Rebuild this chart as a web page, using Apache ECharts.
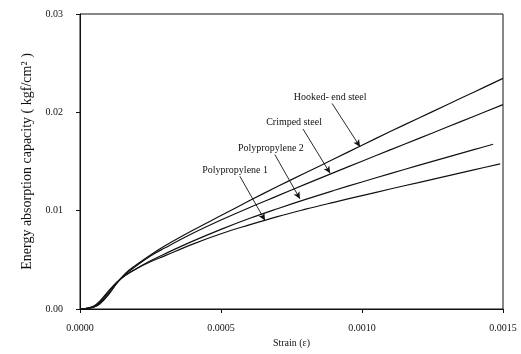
<!DOCTYPE html>
<html>
<head>
<meta charset="utf-8">
<script src="https://cdn.jsdelivr.net/npm/echarts@6/dist/echarts.min.js"></script>
<style>
  html, body { margin: 0; padding: 0; background: #fff; }
  #chart { width: 521px; height: 354px; }
</style>
</head>
<body>
<div id="chart"></div>
<script>
// Energy absorption vs strain
const strain = [0, 0.00002, 0.00005, 0.00007, 0.0001, 0.00013, 0.00016, 0.0002, 0.00025, 0.0003,
  0.0004, 0.0005, 0.0006, 0.0007, 0.0008, 0.0009, 0.001, 0.0011, 0.0012, 0.0013, 0.0014];

const hooked = [0, 0.00003, 0.0002, 0.0005, 0.0014, 0.0026, 0.0036, 0.0045, 0.0055, 0.0064,
  0.0080, 0.0095, 0.0110, 0.01245, 0.01385, 0.01525, 0.01665, 0.01805, 0.0194, 0.02075, 0.0221];
const crimped = [0, 0.00005, 0.0002, 0.0006, 0.0015, 0.0026, 0.0035, 0.0044, 0.0054, 0.0062,
  0.0077, 0.00905, 0.0103, 0.0115, 0.0127, 0.01387, 0.01503, 0.01618, 0.01733, 0.01848, 0.01963];
const poly2 = [0, 0.00005, 0.0003, 0.0007, 0.0017, 0.0027, 0.0034, 0.0041, 0.0049, 0.0056,
  0.0069, 0.0081, 0.0092, 0.0102, 0.01115, 0.01205, 0.01292, 0.01377, 0.0146, 0.01542, 0.01623];
const poly1 = [0, 0.00005, 0.0003, 0.0008, 0.0018, 0.0027, 0.0034, 0.0041, 0.0048, 0.0054,
  0.0066, 0.00765, 0.00855, 0.0094, 0.01015, 0.01085, 0.01153, 0.0122, 0.01286, 0.01352, 0.01417];

// last point of each curve (they stop at different strains)
const endStrain = [0.0015, 0.0015, 0.001465, 0.00149];
const endValue = [0.02345, 0.02078, 0.01675, 0.01476];

const seriesNames = ['Hooked- end steel', 'Crimped steel', 'Polypropylene 2', 'Polypropylene 1'];

// annotation text position and arrow (from -> to), in data units
const labelAt = [[0.000887, 0.0215], [0.000759, 0.0190], [0.000677, 0.0163], [0.000550, 0.0141]];
const arrowFrom = [[0.000894, 0.0209], [0.000791, 0.0183], [0.000691, 0.0157], [0.000567, 0.0135]];
const arrowTo = [[0.000993, 0.0165], [0.000887, 0.0138], [0.000780, 0.0112], [0.000656, 0.0090]];

const xTicks = [0, 0.0005, 0.001, 0.0015];
const yTicks = [0, 0.01, 0.02, 0.03];

const font = 'Liberation Serif';
const ink = '#111';

const chart = echarts.init(document.getElementById('chart'), null, { renderer: 'canvas' });

const buildSeries = (values, i) => ({
  name: seriesNames[i],
  type: 'line',
  data: strain.map((s, k) => [s, values[k]]).concat([[endStrain[i], endValue[i]]]),
  smooth: 0.4,
  showSymbol: false,
  symbol: 'none',
  lineStyle: { color: ink, width: 1.2 },
  z: 3,
  markPoint: {
    symbol: 'circle',
    symbolSize: 0,
    label: {
      show: true,
      position: 'inside',
      formatter: seriesNames[i],
      fontFamily: font,
      fontSize: 10,
      color: ink
    },
    data: [{ coord: labelAt[i] }]
  },
  markLine: {
    silent: true,
    symbol: ['none', 'arrow'],
    symbolSize: [5, 7],
    lineStyle: { color: ink, width: 0.9, type: 'solid' },
    label: { show: false },
    data: [[{ coord: arrowFrom[i] }, { coord: arrowTo[i] }]]
  }
});

const option = {
  animation: false,
  backgroundColor: '#fff',
  grid: {
    left: 80, right: 18, top: 14, bottom: 45,
    show: true, borderColor: ink, borderWidth: 1
  },
  xAxis: {
    type: 'value',
    min: 0, max: 0.0015, interval: 0.0005,
    name: 'Strain (\u03b5)',
    nameLocation: 'middle',
    nameGap: 27,
    nameTextStyle: { fontFamily: font, fontSize: 10, color: ink },
    axisLine: { lineStyle: { color: ink, width: 1 } },
    axisTick: { show: true, length: 4, lineStyle: { color: ink } },
    splitLine: { show: false },
    axisLabel: {
      margin: 14,
      fontFamily: font, fontSize: 10, color: ink,
      formatter: v => (xTicks.some(t => Math.abs(t - v) < 1e-9) ? v.toFixed(4) : '')
    }
  },
  yAxis: {
    type: 'value',
    min: 0, max: 0.03, interval: 0.01,
    name: 'Energy absorption capacity ( kgf/cm\u00b2 )',
    nameLocation: 'middle',
    nameGap: 46,
    nameTextStyle: { fontFamily: font, fontSize: 14, color: ink },
    axisLine: { show: true, lineStyle: { color: ink, width: 1 } },
    axisTick: { show: true, length: 4, lineStyle: { color: ink } },
    splitLine: { show: false },
    axisLabel: {
      margin: 17,
      fontFamily: font, fontSize: 10, color: ink,
      formatter: v => (yTicks.some(t => Math.abs(t - v) < 1e-9) ? v.toFixed(2) : '')
    }
  },
  series: [hooked, crimped, poly2, poly1].map(buildSeries)
};

chart.setOption(option);
</script>
</body>
</html>
